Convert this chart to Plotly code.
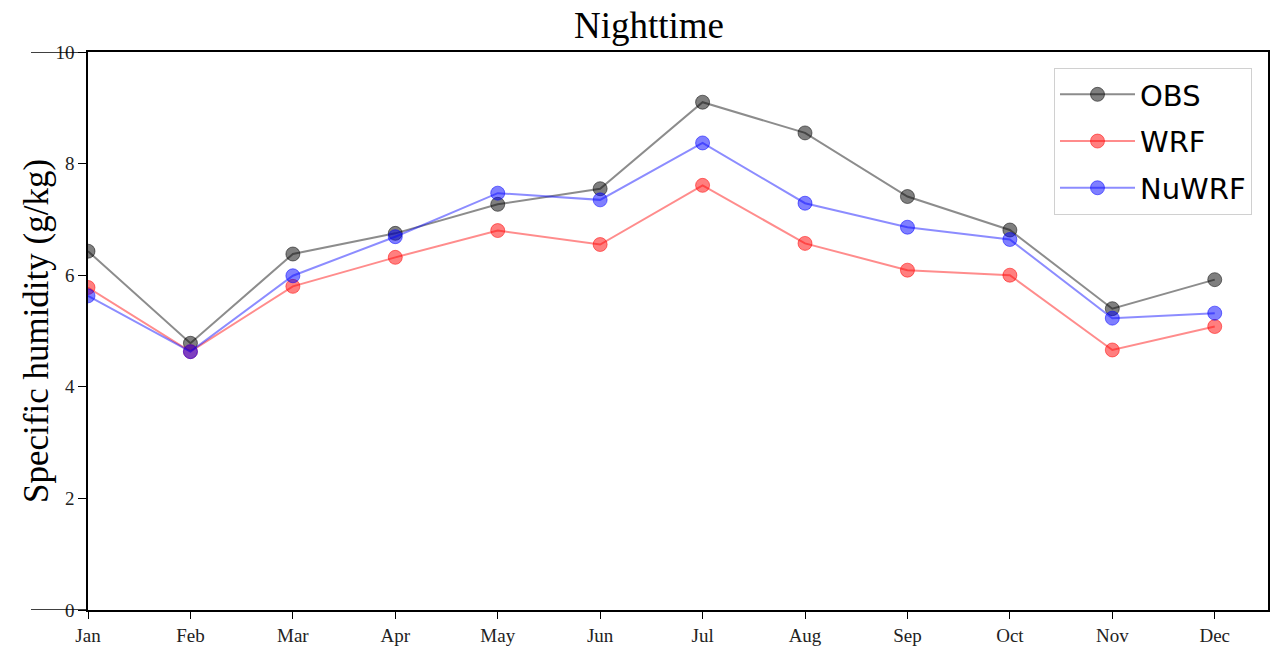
import plotly.graph_objects as go

months = ["Jan", "Feb", "Mar", "Apr", "May", "Jun", "Jul", "Aug", "Sep", "Oct", "Nov", "Dec"]
obs = [6.43, 4.78, 6.38, 6.75, 7.27, 7.55, 9.10, 8.55, 7.41, 6.81, 5.40, 5.92]
wrf = [5.78, 4.63, 5.80, 6.32, 6.80, 6.55, 7.61, 6.57, 6.09, 6.00, 4.66, 5.08]
nuwrf = [5.63, 4.63, 5.99, 6.69, 7.47, 7.35, 8.37, 7.29, 6.86, 6.64, 5.23, 5.32]
yticks = [0, 2, 4, 6, 8, 10]

series = [("OBS", obs, "0,0,0"), ("WRF", wrf, "255,0,0"), ("NuWRF", nuwrf, "0,0,255")]
xidx = list(range(len(months)))

fig = go.Figure()
for name, vals, rgb in series:
    fig.add_trace(go.Scatter(
        x=xidx, y=vals, name=name, mode="lines+markers", legendgroup=name,
        line=dict(color=f"rgba({rgb},0.45)", width=2),
        marker=dict(size=14, color=f"rgba({rgb},0.5)",
                    line=dict(color=f"rgba({rgb},0.5)", width=1)),
    ))

serif = "Liberation Serif, Times New Roman, serif"
fig.update_layout(
    width=1286, height=649,
    margin=dict(l=88, r=18, t=52, b=39, autoexpand=False),
    paper_bgcolor="white", plot_bgcolor="white",
    title=dict(text="Nighttime", x=649/1286, xref="container", xanchor="center",
               y=1-25/649, yref="container", yanchor="middle",
               font=dict(family=serif, size=37, color="black")),
    xaxis=dict(range=[0, 11.52], tickvals=xidx, ticktext=months,
               ticks="outside", ticklen=7, tickwidth=1.3, tickcolor="black",
               showline=True, linecolor="black", linewidth=1.5, mirror=True,
               showgrid=False, zeroline=False,
               tickfont=dict(family=serif, size=19, color="#222")),
    yaxis=dict(range=[0, 10], tickvals=yticks,
               ticks="outside", ticklen=8, tickwidth=1.3, tickcolor="black",
               showline=True, linecolor="black", linewidth=1.5, mirror=True,
               showgrid=False, zeroline=False,
               tickfont=dict(family=serif, size=19, color="#222")),
    legend=dict(x=(1252-88)/1180, xanchor="right",
                y=(610-68)/558, yanchor="top",
                bgcolor="rgba(255,255,255,0.8)", bordercolor="#d0d0d0", borderwidth=1,
                font=dict(family="DejaVu Sans, sans-serif", size=29, color="black"),
                tracegroupgap=6, itemwidth=75),
    annotations=[dict(text="Specific humidity (g/kg)", textangle=-90,
                      xref="paper", yref="paper", x=(36-88)/1180, y=0.5,
                      xanchor="center", yanchor="middle", showarrow=False,
                      font=dict(family=serif, size=35, color="black"))],
    shapes=[dict(type="line", xref="paper", yref="y", x0=(31-88)/1180, x1=0,
                 y0=v, y1=v, line=dict(color="black", width=1.5))
            for v in (yticks[0], yticks[-1])],
)

fig.write_html("out.html")
